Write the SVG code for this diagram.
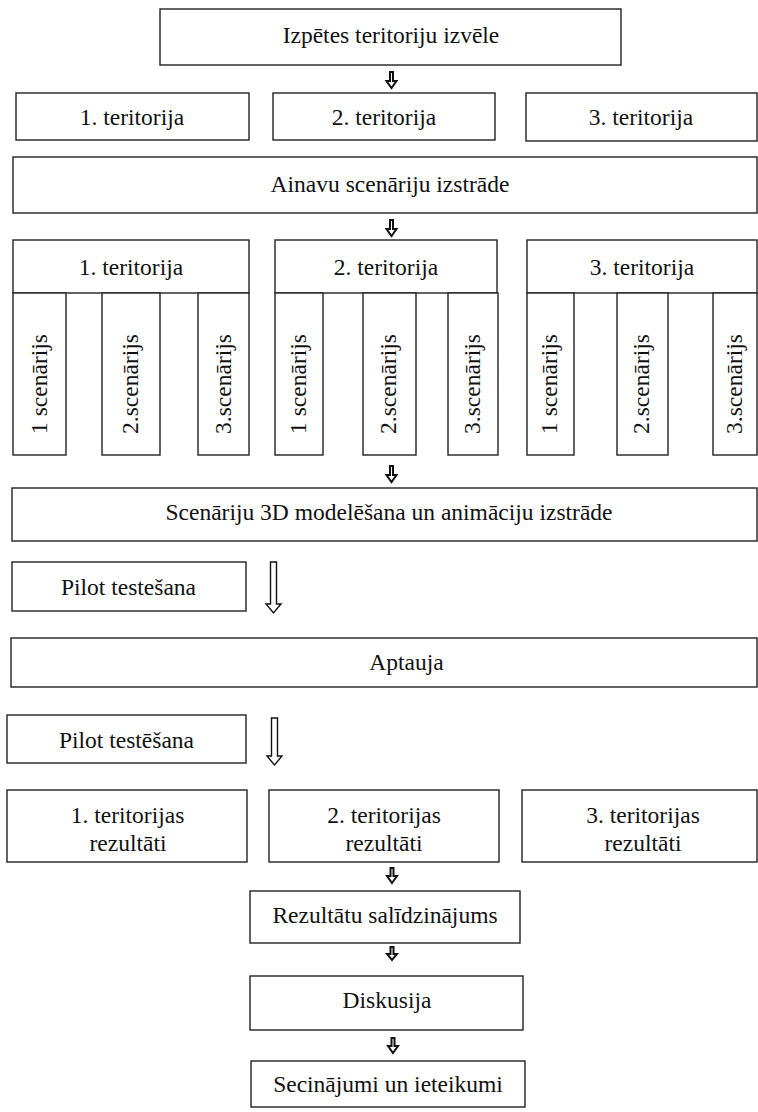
<svg xmlns="http://www.w3.org/2000/svg" width="758" height="1112" viewBox="0 0 758 1112" font-family="'Liberation Serif', 'Times New Roman', serif">
<style>
rect{fill:#fff;stroke:#222;stroke-width:1.4}
text{font-family:'Liberation Serif','Times New Roman',serif;font-size:23.5px;fill:#111;text-anchor:middle}
.a{fill:#fff;stroke:#111;stroke-width:2;stroke-linejoin:miter}
.b{fill:#fff;stroke:#111;stroke-width:1.4}
</style>
<rect x="0" y="0" width="758" height="1112" style="stroke:none"/>
<g id="n-izvele"><rect x="160" y="9" width="461" height="56"/><text x="391" y="43">Izpētes teritoriju izvēle</text></g>
<g id="n-t1"><rect x="16" y="93" width="233" height="47"/><text x="132" y="125">1. teritorija</text></g>
<g id="n-t2"><rect x="273" y="93" width="222" height="47"/><text x="384" y="125">2. teritorija</text></g>
<g id="n-t3"><rect x="526" y="93" width="231" height="48"/><text x="641" y="125">3. teritorija</text></g>
<g id="n-ainavu"><rect x="13" y="157" width="744" height="56"/><text x="390" y="192">Ainavu scenāriju izstrāde</text></g>
<g id="n-s1">
<rect x="13" y="240" width="236" height="53"/><text x="131" y="275">1. teritorija</text>
<rect x="13" y="293" width="53" height="162"/><text transform="translate(47,384) rotate(-90)">1 scenārijs</text>
<rect x="102" y="293" width="58" height="162"/><text transform="translate(138,384) rotate(-90)">2.scenārijs</text>
<rect x="198" y="293" width="51" height="162"/><text transform="translate(231,384) rotate(-90)">3.scenārijs</text>
</g>
<g id="n-s2">
<rect x="275" y="240" width="222" height="53"/><text x="386" y="275">2. teritorija</text>
<rect x="275" y="293" width="48" height="162"/><text transform="translate(306,384) rotate(-90)">1 scenārijs</text>
<rect x="363" y="293" width="53" height="162"/><text transform="translate(396,384) rotate(-90)">2.scenārijs</text>
<rect x="448" y="293" width="50" height="162"/><text transform="translate(480,384) rotate(-90)">3.scenārijs</text>
</g>
<g id="n-s3">
<rect x="527" y="240" width="230" height="53"/><text x="642" y="275">3. teritorija</text>
<rect x="527" y="293" width="47" height="162"/><text transform="translate(557,384) rotate(-90)">1 scenārijs</text>
<rect x="617" y="293" width="51" height="162"/><text transform="translate(649,384) rotate(-90)">2.scenārijs</text>
<rect x="713" y="293" width="44" height="162"/><text transform="translate(742,384) rotate(-90)">3.scenārijs</text>
</g>
<g id="n-3d"><rect x="12" y="488" width="745" height="53"/><text x="389" y="520">Scenāriju 3D modelēšana un animāciju izstrāde</text></g>
<g id="n-pilot1"><rect x="12" y="562" width="234" height="49"/><text x="128.5" y="595">Pilot testešana</text></g>
<g id="n-aptauja"><rect x="11" y="638" width="746" height="49"/><text x="406.5" y="670">Aptauja</text></g>
<g id="n-pilot2"><rect x="7" y="715" width="239" height="48"/><text x="126.5" y="748">Pilot testēšana</text></g>
<g id="n-r1"><rect x="7" y="790" width="240" height="72"/><text x="127.5" y="823">1. teritorijas</text><text x="128" y="851">rezultāti</text></g>
<g id="n-r2"><rect x="269" y="790" width="230" height="72"/><text x="384" y="823">2. teritorijas</text><text x="384" y="851">rezultāti</text></g>
<g id="n-r3"><rect x="522" y="790" width="235" height="72"/><text x="643" y="823">3. teritorijas</text><text x="643" y="851">rezultāti</text></g>
<g id="n-salidz"><rect x="250" y="891" width="270" height="52"/><text x="385" y="923">Rezultātu salīdzinājums</text></g>
<g id="n-disk"><rect x="250" y="976" width="273" height="54"/><text x="387" y="1008">Diskusija</text></g>
<g id="n-secin"><rect x="251" y="1061" width="274" height="46"/><text x="388" y="1092">Secinājumi un ieteikumi</text></g>
<g id="connectors">
<path class="a" d="M390 72V81H386.5L391.5 88L396.5 81H393V72Z"/>
<path class="a" d="M390 220V229H386.5L391.5 236L396.5 229H393V220Z"/>
<path class="a" d="M390 466V475H386.5L391.5 482L396.5 475H393V466Z"/>
<path class="a" d="M390.5 868V876H387L392 883L397 876H393.5V868Z"/>
<path class="a" d="M390.5 947V954H387L392 960L397 954H393.5V947Z"/>
<path class="a" d="M391.5 1038V1046H388L393 1053L398 1046H394.5V1038Z"/>
<path class="b" d="M270.5 562V604H266L273.5 613L281 604H276.5V562Z"/>
<path class="b" d="M271.5 718V756H267L274.5 765L282 756H277.5V718Z"/>
</g>
</svg>
